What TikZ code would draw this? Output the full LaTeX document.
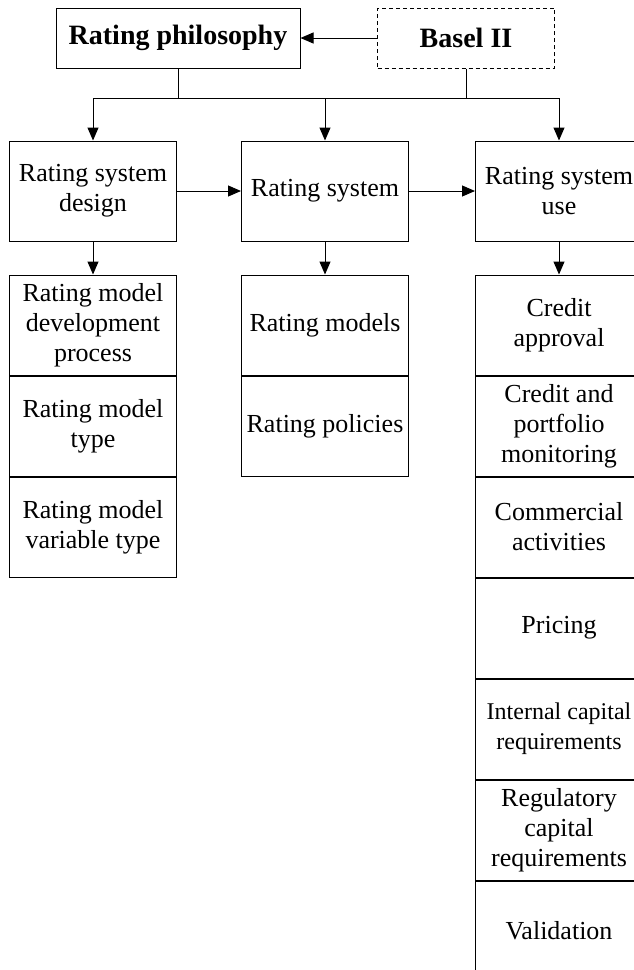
\documentclass[tikz,border=0pt]{standalone}
\usepackage{fontspec}
\setmainfont{Liberation Serif}
\usetikzlibrary{arrows.meta,positioning}

\begin{document}
\begin{tikzpicture}[x=1pt,y=-1pt,node distance=33pt,>={Triangle[length=13pt,width=11pt]},line width=1pt]
        \tikzstyle{block}=[rectangle,draw,line width=1pt,align=center,minimum width=167pt,minimum height=100pt,inner sep=2pt,font=\fontsize{26}{30}\selectfont]
        \tikzstyle{head}=[rectangle,draw,line width=1pt,minimum height=60pt,font=\fontsize{28}{32}\selectfont\bfseries]

        \useasboundingbox (0,0) rectangle (634,970);
        \clip (0,0) rectangle (634,970);

        \node [head, minimum width=244pt] (philo) at (178,38) {Rating philosophy};
        \node [head, dash pattern=on 4pt off 3pt, minimum width=177pt] (basel) at (466,38) {Basel II};

        \node [block] (design) at (93,191) {Rating system\\design};
        \node [block] (system) at (325,191) {Rating system};
        \node [block] (use) at (559,191) {Rating system\\use};

        % left column
        \node [block] (devproc) [below=of design] {Rating model\\development\\process};
        \node [block] (mtype) [below=0pt of devproc] {Rating model\\type};
        \node [block] (vartype) [below=0pt of mtype] {Rating model\\variable type};

        % middle column
        \node [block] (models) [below=of system] {Rating models};
        \node [block] (policies) [below=0pt of models] {Rating policies};

        % right column
        \node [block] (approval) [below=of use] {Credit\\approval};
        \node [block] (monitor) [below=0pt of approval] {Credit and\\portfolio\\monitoring};
        \node [block] (commerce) [below=0pt of monitor] {Commercial\\activities};
        \node [block] (pricing) [below=0pt of commerce] {Pricing};
        \node [block, font=\fontsize{24}{30}\selectfont] (intcap) [below=0pt of pricing] {Internal capital\\requirements};
        \node [block] (regcap) [below=0pt of intcap] {Regulatory\\capital\\requirements};
        \node [block] (valid) [below=0pt of regcap] {Validation};

        \path (design.north) ++(0,-42) coordinate (fork);

        \draw [->] (basel) -- (philo);
        \draw (philo) -- (philo |- fork);
        \draw (basel) -- (basel |- fork);
        \draw [->] (fork) -- (design);
        \draw [->] (fork) -| (use);
        \draw [->] (fork -| system) -- (system);

        \draw [->] (design) -- (system);
        \draw [->] (system) -- (use);
        \draw [->] (design) -- (devproc);
        \draw [->] (system) -- (models);
        \draw [->] (use) -- (approval);
\end{tikzpicture}
\end{document}
